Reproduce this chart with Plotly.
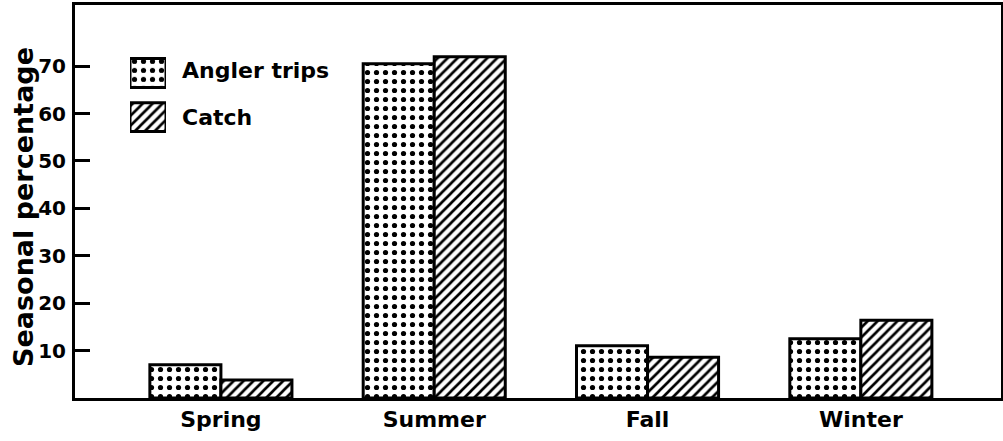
import plotly.graph_objects as go

seasons = ["Spring", "Summer", "Fall", "Winter"]
angler_trips = [7.0, 70.5, 11.0, 12.5]
catch = [3.8, 72.0, 8.6, 16.4]
series_names = ["Angler trips", "Catch"]
y_ticks = [10, 20, 30, 40, 50, 60, 70]

FONT = "DejaVu Sans"
BLACK = "#000000"

dots = dict(shape=".", fgcolor=BLACK, bgcolor="white", size=9, solidity=0.26, fillmode="replace")
hatch = dict(shape="/", fgcolor=BLACK, bgcolor="white", size=7, solidity=0.38, fillmode="replace")

fig = go.Figure()
fig.add_trace(go.Bar(x=seasons, y=angler_trips, name=series_names[0],
                     marker=dict(color="white", pattern=dots, line=dict(color=BLACK, width=3)),
                     showlegend=False))
fig.add_trace(go.Bar(x=seasons, y=catch, name=series_names[1],
                     marker=dict(color="white", pattern=hatch, line=dict(color=BLACK, width=3)),
                     showlegend=False))

# legend swatches drawn as bars on a small auxiliary axis
leg_pos = [0.79, 0.21]
for name, pat, yp in zip(series_names, [dots, hatch], leg_pos):
    fig.add_trace(go.Bar(x=[1], y=[yp], orientation="h", width=0.38, offset=-0.19,
                         xaxis="x2", yaxis="y2", showlegend=False, name=name,
                         marker=dict(color="white", pattern=pat, line=dict(color=BLACK, width=3))))

fig.update_layout(
    width=1003, height=441,
    margin=dict(l=75, r=2, t=5, b=43),
    paper_bgcolor="white", plot_bgcolor="white",
    barmode="group", bargap=0.334, bargroupgap=0,
    font=dict(family=FONT, color=BLACK, size=20),
    xaxis=dict(range=[-0.684, 3.657], showline=True, linecolor=BLACK, linewidth=3, mirror=True,
               ticks="", showgrid=False, zeroline=False, automargin=False,
               tickfont=dict(family=FONT, size=22, color=BLACK, weight="bold")),
    yaxis=dict(range=[0, 82.9], tickvals=y_ticks, ticks="inside", ticklen=15, tickwidth=3,
               tickcolor=BLACK, showline=True, linecolor=BLACK, linewidth=3, mirror=True,
               showgrid=False, zeroline=False, ticklabelstandoff=2, automargin=False,
               tickfont=dict(family=FONT, size=20, color=BLACK, weight="bold")),
    xaxis2=dict(domain=[0.0594, 0.0983], range=[0, 1], visible=False, anchor="y2"),
    yaxis2=dict(domain=[0.674, 0.868], range=[0, 1], visible=False, anchor="x2"),
)

# y-axis title
fig.add_annotation(x=-0.0562, y=0.486, xref="paper", yref="paper", text="<b>Seasonal percentage</b>",
                   textangle=-90, showarrow=False, xanchor="center", yanchor="middle",
                   font=dict(family=FONT, size=27, color=BLACK))

# legend labels
leg_text_y = [0.833, 0.713]
for name, yp in zip(series_names, leg_text_y):
    fig.add_annotation(x=0.113, y=yp, xref="paper", yref="paper", text="<b>" + name + "</b>",
                       showarrow=False, xanchor="left", yanchor="middle",
                       font=dict(family=FONT, size=22, color=BLACK))

fig.write_html("out.html", config={"displayModeBar": False},
               post_script="document.body.style.margin='0';")
